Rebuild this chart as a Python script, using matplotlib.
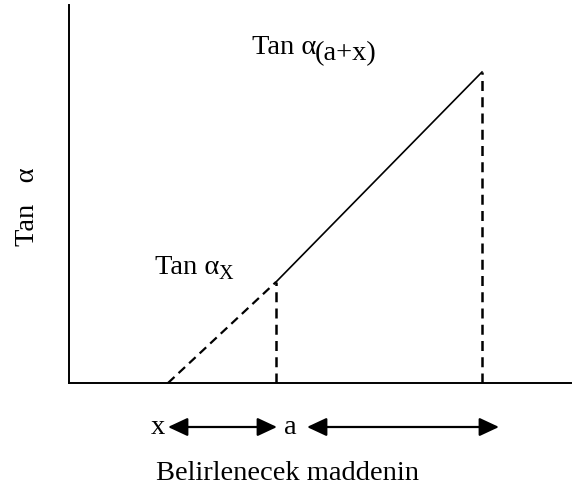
import matplotlib.pyplot as plt

plt.rcParams['font.family'] = ['Liberation Serif', 'DejaVu Serif']

# schematic points along the concentration axis
x_points = [99, 207, 413]          # zero crossing, x, a+x
tan_values = [0, 101, 311]         # Tan alpha at those points
arrow_spans = [(99, 208), (238, 430)]

fig = plt.figure(figsize=(5.74, 4.86), dpi=100)
ax = fig.add_axes([69 / 574, 103 / 486, 502 / 574, 378 / 486])
ax.set_xlim(0, 502)
ax.set_ylim(0, 378)

for s in ['top', 'right']:
    ax.spines[s].set_visible(False)
for s in ['left', 'bottom']:
    ax.spines[s].set_linewidth(1.4)
ax.set_xticks([])
ax.set_yticks([])

# extrapolated part (dashed) and measured part (solid)
ax.plot(x_points[:2], tan_values[:2], color='black', lw=1.6, ls=(0, (4, 2.5)))
ax.plot(x_points[1:], tan_values[1:], color='black', lw=1.2)

# drop lines to the x axis
for xp, yp in zip(x_points[1:], tan_values[1:]):
    ax.plot([xp, xp], [0, yp], color='black', lw=1.8, ls=(0, (4, 2.5)))

# double arrows under the axis
for x1, x2 in arrow_spans:
    ax.annotate('', xy=(x1, -44), xytext=(x2, -44), xycoords='data',
                annotation_clip=False,
                arrowprops=dict(arrowstyle='<|-|>,head_length=0.6,head_width=0.28',
                                color='black', lw=1.6,
                                mutation_scale=20, shrinkA=0, shrinkB=0))

fs = 20.5
fig.text(252 / 574, 1 - 54 / 486, 'Tan α', fontsize=fs, ha='left', va='baseline')
fig.text(315 / 574, 1 - 60 / 486, '(a+x)', fontsize=fs, ha='left', va='baseline')
fig.text(155 / 574, 1 - 274 / 486, 'Tan α', fontsize=fs, ha='left', va='baseline')
fig.text(219 / 574, 1 - 279 / 486, 'X', fontsize=14.5, ha='left', va='baseline')
fig.text(27 / 574, 1 - 207 / 486, 'Tan   α', fontsize=fs, rotation=90,
         ha='center', va='center')
fig.text(158 / 574, 1 - 434 / 486, 'x', fontsize=fs, ha='center', va='baseline')
fig.text(290 / 574, 1 - 434 / 486, 'a', fontsize=fs, ha='center', va='baseline')
fig.text(288 / 574, 1 - 480 / 486, 'Belirlenecek maddenin', fontsize=fs,
         ha='center', va='baseline')

fig.savefig('out.png', dpi=100)
